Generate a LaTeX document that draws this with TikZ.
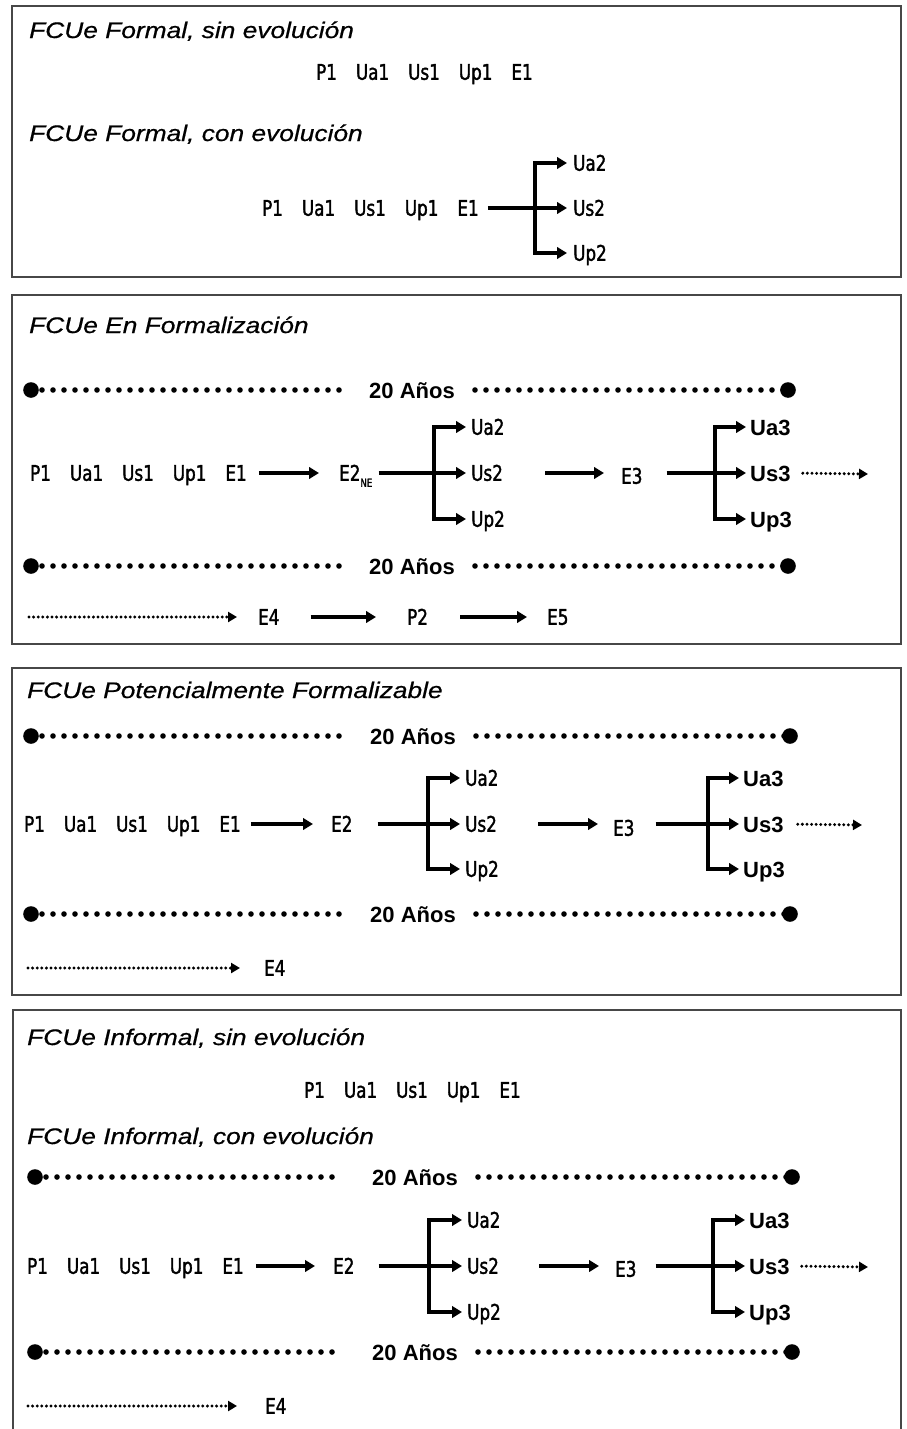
\documentclass[tikz,border=0pt]{standalone}
\usepackage{fontspec}
\setmainfont{Liberation Sans}
\newfontfamily\labfont[FakeStretch=0.78,FakeBold=1.6]{DejaVu Sans}
\newfontfamily\titfont[FakeStretch=1.17,FakeBold=0.6]{Liberation Sans}
\usetikzlibrary{arrows.meta}

% the usual sequence of stages
\newcommand\rowtext{P1\hspace{19pt}Ua1\hspace{19pt}Us1\hspace{19pt}Up1\hspace{19pt}E1}
% E2 with the small "NE" index
\newcommand\etwone{E2\raisebox{-6pt}{\fontsize{11}{11}\selectfont NE}}

\tikzset{
  frame/.style={draw=black!72, line width=2.7pt},
  title/.style={anchor=west, inner sep=0pt, font=\titfont\itshape\fontsize{22.5}{22.5}\selectfont, text height=16pt, text depth=0pt},
  lab/.style={anchor=west, inner sep=0pt, font=\labfont\fontsize{21.5}{21.5}\selectfont, text height=15.5pt, text depth=0pt},
  blab/.style={anchor=west, inner sep=0pt, font=\bfseries\fontsize{22}{22}\selectfont, text height=16pt, text depth=0pt},
  yrs/.style={inner sep=0pt, font=\bfseries\fontsize{22}{22}\selectfont, text height=16pt, text depth=0pt},
  arr/.style={line width=3.4pt, -{Triangle[length=10pt,width=11.5pt]}},
  dotrow/.style={line width=5.6pt, line cap=round, dash pattern=on 0pt off 11pt},
  dotarr/.style={line width=3.3pt, line cap=round, dash pattern=on 0pt off 4.6pt, -{Triangle[length=9pt,width=10pt]}}
}

% "20 Años" time span: name, y, left end, right end, label centre
\newcommand\yearsline[5]{%
  \node[yrs] (#1) at (#5,#2) {20 Años};
  \coordinate (#1l) at (#3,#2);
  \coordinate (#1r) at (#4,#2);
  \draw[dotrow, shorten >=30pt] (#1l) -- (#1.west);
  \draw[dotrow, shorten <=20pt] (#1.east) -- (#1r);
  \fill (#1l) circle (7.8pt);
  \fill (#1r) circle (7.8pt);
}

\begin{document}
\begin{tikzpicture}[x=1pt, y=-1pt]
\useasboundingbox (0,0) rectangle (907,1429);
\fill[white] (0,0) rectangle (907,1429);

% ---------------- Formal ----------------
\draw[frame] (12,6) rectangle (901,277);
\node[title] (ta1) at (29,30) {FCUe Formal, sin evolución};
\node[lab] (sa1) at (316,72) {\rowtext};
\node[title] (ta2) at (29,133) {FCUe Formal, con evolución};
\node[lab] (sa2) at (262,208) {\rowtext};
\node[lab] (ua2a) at (573,163) {Ua2};
\node[lab] (us2a) at (573,208) {Us2};
\node[lab] (up2a) at (573,253) {Up2};
\coordinate (fa) at (535,208);
\draw[arr, shorten <=9pt, shorten >=6pt] (sa2.east) -- (us2a.west);
\draw[arr, shorten >=6pt] (fa) |- (ua2a.west);
\draw[arr, shorten >=6pt] (fa) |- (up2a.west);

% ---------------- En formalización ----------------
\draw[frame] (12,295) rectangle (901,644);
\node[title] (tb) at (29,325) {FCUe En Formalización};
\yearsline{yb1}{390}{31}{788}{412}
\node[lab] (sb) at (30,473) {\rowtext};
\node[lab] (e2b) at (339,473) {\etwone};
\node[lab] (ua2b) at (471,427) {Ua2};
\node[lab] (us2b) at (471,473) {Us2};
\node[lab] (up2b) at (471,519) {Up2};
\coordinate (fb1) at (434,473);
\draw[arr, shorten <=12pt, shorten >=20pt] (sb.east) -- (e2b.west);
\draw[arr, shorten <=6pt, shorten >=5pt] (e2b.east) -- (us2b.west);
\draw[arr, shorten >=5pt] (fb1) |- (ua2b.west);
\draw[arr, shorten >=5pt] (fb1) |- (up2b.west);
\node[lab] (e3b) at (621,476) {E3};
\draw[arr, shorten <=42pt, shorten >=17pt] (us2b.east) -- (us2b.east -| e3b.west);
\node[blab] (ua3b) at (750,427) {Ua3};
\node[blab] (us3b) at (750,473) {Us3};
\node[blab] (up3b) at (750,519) {Up3};
\coordinate (fb2) at (715,473);
\draw[arr, shorten <=24pt, shorten >=4pt] (e3b.east |- us3b.west) -- (us3b.west);
\draw[arr, shorten >=4pt] (fb2) |- (ua3b.west);
\draw[arr, shorten >=4pt] (fb2) |- (up3b.west);
\coordinate (xb) at (868,474);
\draw[dotarr, shorten <=12pt] (us3b.east) -- (xb);
\yearsline{yb2}{566}{31}{788}{412}
\coordinate (ob) at (29,617);
\node[lab] (e4b) at (258,617) {E4};
\node[lab] (p2b) at (407,617) {P2};
\node[lab] (e5b) at (547,617) {E5};
\draw[dotarr, shorten >=21pt] (ob) -- (e4b.west);
\draw[arr, shorten <=31pt, shorten >=31pt] (e4b.east) -- (p2b.west);
\draw[arr, shorten <=32pt, shorten >=20pt] (p2b.east) -- (e5b.west);

% ---------------- Potencialmente formalizable ----------------
\draw[frame] (12,668) rectangle (901,995);
\node[title] (tc) at (27,690) {FCUe Potencialmente Formalizable};
\yearsline{yc1}{736}{31}{790}{413}
\node[lab] (sc) at (24,824) {\rowtext};
\node[lab] (e2c) at (331,824) {E2};
\node[lab] (ua2c) at (465,778) {Ua2};
\node[lab] (us2c) at (465,824) {Us2};
\node[lab] (up2c) at (465,869) {Up2};
\coordinate (fc1) at (428,824);
\draw[arr, shorten <=10pt, shorten >=18pt] (sc.east) -- (e2c.west);
\draw[arr, shorten <=25pt, shorten >=5pt] (e2c.east) -- (us2c.west);
\draw[arr, shorten >=5pt] (fc1) |- (ua2c.west);
\draw[arr, shorten >=5pt] (fc1) |- (up2c.west);
\node[lab] (e3c) at (613,828) {E3};
\draw[arr, shorten <=41pt, shorten >=15pt] (us2c.east) -- (us2c.east -| e3c.west);
\node[blab] (ua3c) at (743,778) {Ua3};
\node[blab] (us3c) at (743,824) {Us3};
\node[blab] (up3c) at (743,869) {Up3};
\coordinate (fc2) at (708,824);
\draw[arr, shorten <=21pt, shorten >=4pt] (e3c.east |- us3c.west) -- (us3c.west);
\draw[arr, shorten >=4pt] (fc2) |- (ua3c.west);
\draw[arr, shorten >=4pt] (fc2) |- (up3c.west);
\coordinate (xc) at (862,825);
\draw[dotarr, shorten <=14pt] (us3c.east) -- (xc);
\yearsline{yc2}{914}{31}{790}{413}
\coordinate (oc) at (28,968);
\node[lab] (e4c) at (264,968) {E4};
\draw[dotarr, shorten >=24pt] (oc) -- (e4c.west);

% ---------------- Informal ----------------
\draw[frame] (13,1440) -- (13,1010) -- (901,1010) -- (901,1440);
\node[title] (td1) at (27,1037) {FCUe Informal, sin evolución};
\node[lab] (sd1) at (304,1090) {\rowtext};
\node[title] (td2) at (27,1136) {FCUe Informal, con evolución};
\yearsline{yd1}{1177}{35}{792}{415}
\node[lab] (sd) at (27,1266) {\rowtext};
\node[lab] (e2d) at (333,1266) {E2};
\node[lab] (ua2d) at (467,1220) {Ua2};
\node[lab] (us2d) at (467,1266) {Us2};
\node[lab] (up2d) at (467,1312) {Up2};
\coordinate (fd1) at (429,1266);
\draw[arr, shorten <=12pt, shorten >=18pt] (sd.east) -- (e2d.west);
\draw[arr, shorten <=24pt, shorten >=5pt] (e2d.east) -- (us2d.west);
\draw[arr, shorten >=5pt] (fd1) |- (ua2d.west);
\draw[arr, shorten >=5pt] (fd1) |- (up2d.west);
\node[lab] (e3d) at (615,1269) {E3};
\draw[arr, shorten <=40pt, shorten >=16pt] (us2d.east) -- (us2d.east -| e3d.west);
\node[blab] (ua3d) at (749,1220) {Ua3};
\node[blab] (us3d) at (749,1266) {Us3};
\node[blab] (up3d) at (749,1312) {Up3};
\coordinate (fd2) at (713,1266);
\draw[arr, shorten <=19pt, shorten >=4pt] (e3d.east |- us3d.west) -- (us3d.west);
\draw[arr, shorten >=4pt] (fd2) |- (ua3d.west);
\draw[arr, shorten >=4pt] (fd2) |- (up3d.west);
\coordinate (xd) at (868,1267);
\draw[dotarr, shorten <=12pt] (us3d.east) -- (xd);
\yearsline{yd2}{1352}{35}{792}{415}
\coordinate (od) at (28,1406);
\node[lab] (e4d) at (265,1406) {E4};
\draw[dotarr, shorten >=28pt] (od) -- (e4d.west);
\end{tikzpicture}
\end{document}
